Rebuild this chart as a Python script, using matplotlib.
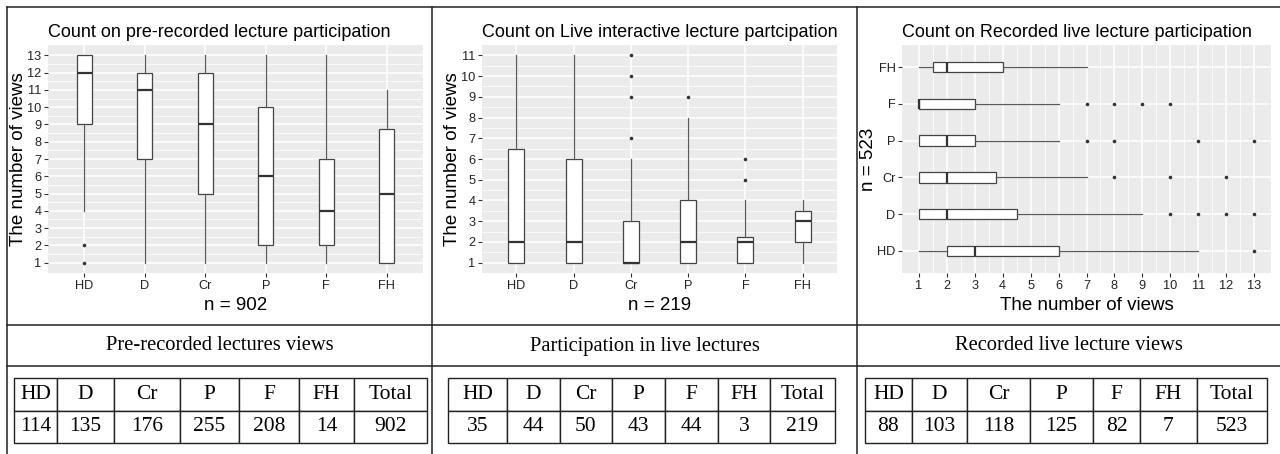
import numpy as np
import matplotlib
matplotlib.use("Agg")
import matplotlib.pyplot as plt
from matplotlib.lines import Line2D

plt.rcParams['font.family'] = ['Liberation Sans', 'DejaVu Sans']

cats = ['HD', 'D', 'Cr', 'P', 'F', 'FH']

# pre-recorded lectures
pre_q1 = [9, 7, 5, 2, 2, 1]
pre_med = [12, 11, 9, 6, 4, 5]
pre_q3 = [13, 12, 12, 10, 7, 8.75]
pre_lo = [4, 1, 1, 1, 1, 1]
pre_hi = [13, 13, 13, 13, 13, 11]
pre_out = [[1, 2], [], [], [], [], []]

# live interactive lectures
live_q1 = [1, 1, 1, 1, 1, 2]
live_med = [2, 2, 1, 2, 2, 3]
live_q3 = [6.5, 6, 3, 4, 2.25, 3.5]
live_lo = [1, 1, 1, 1, 1, 1]
live_hi = [11, 11, 6, 8, 4, 4]
live_out = [[], [], [7, 9, 10, 11], [9], [5, 6], []]

# recorded live lectures
rec_q1 = [2, 1, 1, 1, 1, 1.5]
rec_med = [3, 2, 2, 2, 1, 2]
rec_q3 = [6, 4.5, 3.75, 3, 3, 4]
rec_lo = [1, 1, 1, 1, 1, 1]
rec_hi = [11, 9, 7, 6, 6, 7]
rec_out = [[13], [10, 11, 12, 13], [8, 10, 12], [7, 8, 11, 13], [7, 8, 9, 10], []]

tab_head = cats + ['Total']
pre_counts = [114, 135, 176, 255, 208, 14, 902]
live_counts = [35, 44, 50, 43, 44, 3, 219]
rec_counts = [88, 103, 118, 125, 82, 7, 523]

W, H = 1280, 454
fig = plt.figure(figsize=(W / 100, H / 100), dpi=100)


def px_axes(x0, y0, x1, y1):
    return fig.add_axes([x0 / W, 1 - y1 / H, (x1 - x0) / W, (y1 - y0) / H])


def make_stats(q1, med, q3, lo, hi, out):
    return [dict(q1=a, med=b, q3=c, whislo=d, whishi=e, fliers=f)
            for a, b, c, d, e, f in zip(q1, med, q3, lo, hi, out)]


dark = '#333333'
box_kw = dict(patch_artist=True, showcaps=False,
              boxprops=dict(facecolor='white', edgecolor='#444444', linewidth=0.9),
              whiskerprops=dict(color='#5a5a5a', linewidth=0.9),
              medianprops=dict(color=dark, linewidth=1.6),
              flierprops=dict(marker='o', markersize=2.6, markerfacecolor=dark,
                              markeredgecolor='none'))


def gg_style(ax):
    ax.set_facecolor('#EBEBEB')
    for s in ax.spines.values():
        s.set_visible(False)
    ax.grid(True, which='major', color='white', linewidth=1.1)
    ax.grid(True, which='minor', color='white', linewidth=0.55)
    ax.set_axisbelow(True)
    ax.tick_params(which='major', color=dark, length=3.2, width=0.8,
                   labelsize=9.2, labelcolor='#222222', pad=1.5)
    ax.tick_params(which='minor', length=0)


pos = np.arange(1, len(cats) + 1)

# panel 1
ax1 = px_axes(48, 45, 423, 273)
gg_style(ax1)
ax1.bxp(make_stats(pre_q1, pre_med, pre_q3, pre_lo, pre_hi, pre_out),
        positions=pos, widths=0.25, **box_kw)
ax1.set_xlim(0.4, 6.6)
ax1.set_ylim(0.4, 13.6)
ax1.set_yticks(np.arange(1, 14))
ax1.set_yticks(np.arange(1.5, 13.5, 1), minor=True)
ax1.set_xticks(pos, cats)
ax1.set_title('Count on pre-recorded lecture participation', loc='left',
              fontsize=13, pad=6)
ax1.set_ylabel('The number of views', fontsize=13.5, labelpad=0.5)
ax1.set_xlabel('n = 902', fontsize=13.5, labelpad=4)

# panel 2
ax2 = px_axes(482, 45, 837, 273)
gg_style(ax2)
ax2.bxp(make_stats(live_q1, live_med, live_q3, live_lo, live_hi, live_out),
        positions=pos, widths=0.28, **box_kw)
ax2.set_xlim(0.4, 6.6)
ax2.set_ylim(0.5, 11.5)
ax2.set_yticks(np.arange(1, 12))
ax2.set_yticks(np.arange(1.5, 11.5, 1), minor=True)
ax2.set_xticks(pos, cats)
ax2.set_title('Count on Live interactive lecture partcipation', loc='left',
              fontsize=13, pad=6)
ax2.set_ylabel('The number of views', fontsize=13.5, labelpad=0.5)
ax2.set_xlabel('n = 219', fontsize=13.5, labelpad=4)

# panel 3 (horizontal)
ax3 = px_axes(902, 45, 1271, 273)
gg_style(ax3)
ax3.bxp(make_stats(rec_q1, rec_med, rec_q3, rec_lo, rec_hi, rec_out),
        positions=pos, widths=0.28, orientation='horizontal', **box_kw)
ax3.set_ylim(0.4, 6.6)
ax3.set_xlim(0.4, 13.6)
ax3.set_xticks(np.arange(1, 14))
ax3.set_xticks(np.arange(1.5, 13.5, 1), minor=True)
ax3.set_yticks(pos, cats)
ax3.set_title('Count on Recorded live lecture participation', loc='left',
              fontsize=13, pad=6)
ax3.set_xlabel('The number of views', fontsize=13.5, labelpad=4)
ax3.set_ylabel('n = 523', fontsize=13.5, labelpad=0.5)

# frame lines
def hline(y, x0, x1):
    fig.add_artist(Line2D([x0 / W, x1 / W], [1 - y / H, 1 - y / H],
                          color='#222222', linewidth=1.1))


def vline(x, y0, y1):
    fig.add_artist(Line2D([x / W, x / W], [1 - y0 / H, 1 - y1 / H],
                          color='#222222', linewidth=1.1))


hline(7, 7, W)
hline(325, 7, W)
hline(366, 7, W)
vline(7, 7, H)
vline(432, 7, H)
vline(857, 7, H)

serif = ['Liberation Serif', 'DejaVu Serif']
heads = ['Pre-recorded lectures views', 'Participation in live lectures',
         'Recorded live lecture views']
cell_x0 = [7, 432, 857]
cell_x1 = [432, 857, W]
for t, a, b in zip(heads, cell_x0, cell_x1):
    fig.text((a + b) / 2 / W, 1 - 346 / H, t, ha='center', va='center',
             fontsize=14.8, family=serif)

# count tables
tab_edges = [[14, 57, 114, 180, 239, 299, 354, 427],
             [448, 507, 560, 612, 665, 718, 770, 835],
             [865, 912, 967, 1030, 1093, 1140, 1197, 1267]]
for edges, counts in zip(tab_edges, [pre_counts, live_counts, rec_counts]):
    tax = px_axes(edges[0], 378, edges[-1], 443)
    tax.axis('off')
    widths = np.diff(edges) / (edges[-1] - edges[0])
    tb = tax.table(cellText=[tab_head, [str(c) for c in counts]],
                   colWidths=list(widths), cellLoc='center', bbox=[0, 0, 1, 1])
    tb.auto_set_font_size(False)
    for cell in tb.get_celld().values():
        cell.set_linewidth(1.0)
        cell.set_edgecolor('#222222')
        cell.get_text().set_fontsize(15.5)
        cell.get_text().set_family(serif)

fig.savefig('out.png', dpi=100)
